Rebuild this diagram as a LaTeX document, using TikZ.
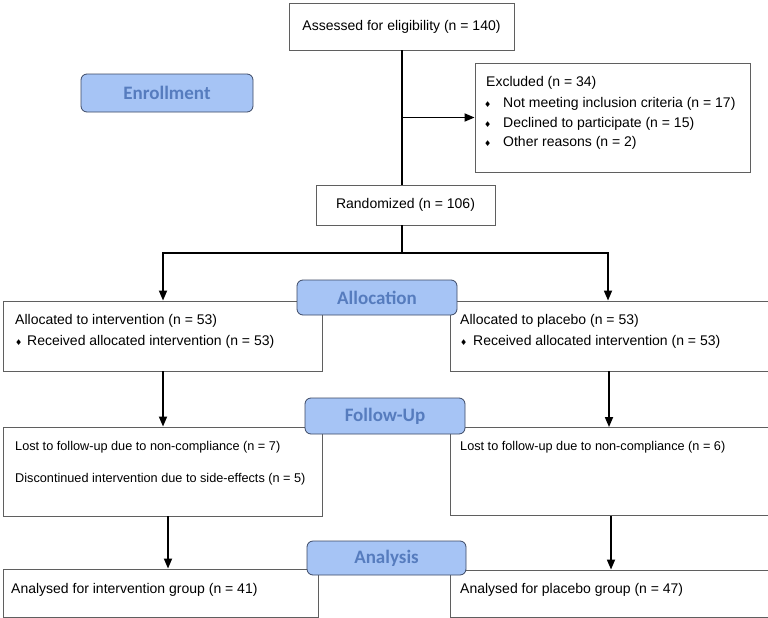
\documentclass[tikz,border=0pt]{standalone}
\usepackage{fontspec}
\setmainfont{Liberation Sans}
\newfontfamily\labfont{Carlito}
\newfontfamily\symfont{DejaVu Sans}
\usetikzlibrary{arrows.meta}
\definecolor{labfill}{RGB}{166,196,245}
\definecolor{labtext}{RGB}{86,124,190}
\definecolor{labdraw}{RGB}{60,72,100}
\definecolor{boxdraw}{RGB}{95,95,95}
\newcommand\dbul{{\symfont\fontsize{8}{8}\selectfont ♦}}
\begin{document}
\begin{tikzpicture}[x=1pt,y=-1pt,
  box/.style={draw=boxdraw, line width=0.9pt, fill=white, inner sep=0pt},
  stagelabel/.style={draw=labdraw, line width=0.8pt, fill=labfill, rounded corners=6pt,
     text=labtext, font=\labfont\bfseries\fontsize{19}{19}\selectfont, inner sep=0pt},
  txt/.style={anchor=west, inner sep=0pt, font=\fontsize{14}{16}\selectfont},
  smalltxt/.style={anchor=west, inner sep=0pt, font=\fontsize{12.7}{15}\selectfont},
  arr/.style={line width=1.7pt, -{Triangle[length=10pt,width=8pt]}},
  ln/.style={line width=1.7pt}]
\path[use as bounding box] (0,0) rectangle (768,618);
\clip (0,0) rectangle (768,618);
\fill[white] (0,0) rectangle (768,618);

% boxes
\node[box, minimum width=225pt, minimum height=47pt, font=\fontsize{14}{16}\selectfont] (assess) at (401.5,26.5) {Assessed for eligibility (n = 140)};
\node[box, minimum width=275pt, minimum height=109pt] (excl) at (612.5,117.5) {};
\node[box, minimum width=179pt, minimum height=40pt, font=\fontsize{14}{16}\selectfont] (rand) at (405.5,205) {Randomized (n = 106)};
\node[box, minimum width=319pt, minimum height=70pt] (allocL) at (162.5,336) {};
\node[box, minimum width=325pt, minimum height=70pt] (allocR) at (612.5,336) {};
\node[box, minimum width=319pt, minimum height=89pt] (fuL) at (162.5,471.5) {};
\node[box, minimum width=325pt, minimum height=88pt] (fuR) at (612.5,471.5) {};
\node[box, minimum width=315pt, minimum height=48pt] (anL) at (160.5,593) {};
\node[box, minimum width=325pt, minimum height=47pt] (anR) at (612.5,593.5) {};

% texts
\node[txt] (ex0) at (486,83) {Excluded (n = 34)};
\node[txt] (ex1) at (484,104) {\makebox[19pt][l]{\dbul}Not meeting inclusion criteria (n = 17)};
\node[txt] (ex2) at (484,124) {\makebox[19pt][l]{\dbul}Declined to participate (n = 15)};
\node[txt] (ex3) at (484,143) {\makebox[19pt][l]{\dbul}Other reasons (n = 2)};

\node[txt] (al1) at (15,321) {Allocated to intervention (n = 53)};
\node[txt] (al2) at (15,342) {\makebox[12pt][l]{\dbul}Received allocated intervention (n = 53)};
\node[txt] (ar1) at (460,321) {Allocated to placebo (n = 53)};
\node[txt] (ar2) at (460,342) {\makebox[13pt][l]{\dbul}Received allocated intervention (n = 53)};

\node[smalltxt] (fl1) at (15,447) {Lost to follow-up due to non-compliance (n = 7)};
\node[smalltxt] (fl2) at (15,479) {Discontinued intervention due to side-effects (n = 5)};
\node[smalltxt] (fr1) at (460,447) {Lost to follow-up due to non-compliance (n = 6)};

\node[txt] (nl1) at (11,590) {Analysed for intervention group (n = 41)};
\node[txt] (nr1) at (460,590) {Analysed for placebo group (n = 47)};

% connectors
\coordinate (trunk) at (402,50);
\coordinate (split) at (402,253);
\coordinate (brL) at (163,253);
\coordinate (brR) at (608,253);
\draw[ln] (assess.south -| trunk) -- (rand.north -| trunk);
\draw[arr] (trunk |- excl.west) -- (excl.west);
\draw[ln] (rand.south -| trunk) -- (split);
\draw[arr] (split) -- (brL) -- (brL |- allocL.north);
\draw[arr] (split) -- (brR) -- (brR |- allocR.north);
\coordinate (cL1) at (163,371);
\coordinate (cR1) at (609,371);
\draw[arr] (allocL.south -| cL1) -- (fuL.north -| cL1);
\draw[arr] (allocR.south -| cR1) -- (fuR.north -| cR1);
\coordinate (cL2) at (168,516);
\coordinate (cR2) at (611,516);
\draw[arr] (fuL.south -| cL2) -- (anL.north -| cL2);
\draw[arr] (fuR.south -| cR2) -- (anR.north -| cR2);

% stage labels
\node[stagelabel, minimum width=172pt, minimum height=38pt] (enr) at (167,93) {Enrollment};
\node[stagelabel, minimum width=160pt, minimum height=35pt] (alloc) at (377,297.5) {Allocation};
\node[stagelabel, minimum width=160pt, minimum height=36pt] (fu) at (385,416) {Follow-Up};
\node[stagelabel, minimum width=159pt, minimum height=34pt] (ana) at (386.5,558) {Analysis};
\end{tikzpicture}
\end{document}
